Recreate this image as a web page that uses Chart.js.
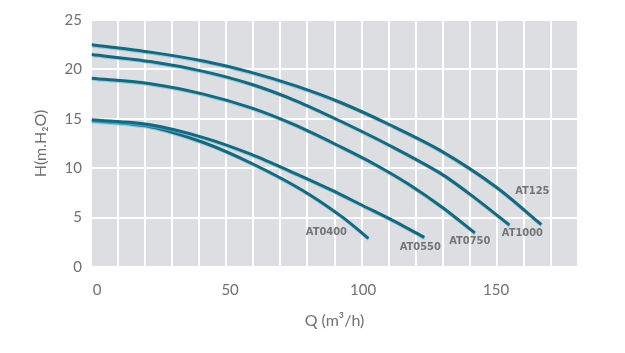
<!DOCTYPE html>
<html>
<head>
<meta charset="utf-8">
<script src="https://cdn.jsdelivr.net/npm/chart.js@4.4.0/dist/chart.umd.min.js"></script>
<style>
  body { margin: 0; background: #fff; }
  #wrap { width: 625px; height: 353px; }
</style>
</head>
<body>
<div id="wrap"><canvas id="myChart"></canvas></div>
<script>
// pump curves, Q in m3/h, H in m
var models = ["AT1250", "AT1000", "AT0750", "AT0550", "AT0400"];
var curveLabels = ["AT125", "AT1000", "AT0750", "AT0550", "AT0400"];

var q1250 = [-2, 20, 40, 58, 75, 92, 110, 129, 150, 167];
var h1250 = [22.5, 21.75, 20.85, 19.7, 18.3, 16.6, 14.4, 11.8, 8.1, 4.3];

var q1000 = [-2, 20, 40, 58, 75, 92, 110, 129, 142, 155];
var h1000 = [21.5, 20.8, 19.8, 18.5, 16.8, 14.7, 12.3, 9.5, 7.0, 4.25];

var q0750 = [-2, 20, 40, 58, 75, 92, 105, 117, 130, 142];
var h0750 = [19.1, 18.55, 17.5, 16.1, 14.3, 12.1, 10.3, 8.4, 6.0, 3.45];

var q0550 = [-2, 20, 40, 58, 75, 88, 100, 112, 123];
var h0550 = [14.9, 14.4, 13.1, 11.4, 9.4, 7.8, 6.2, 4.6, 3.0];

var q0400 = [-2, 20, 40, 58, 77, 92, 102];
var h0400 = [14.8, 14.2, 12.6, 10.5, 7.8, 5.1, 2.9];

var xTicks = [0, 50, 100, 150];
var yTicks = [0, 5, 10, 15, 20, 25];

var allQ = [q1250, q1000, q0750, q0550, q0400];
var allH = [h1250, h1000, h0750, h0550, h0400];

function pts(q, h) {
  return q.map(function (v, i) { return {x: v, y: h[i]}; });
}

var datasets = [];
for (var i = 0; i < models.length; i++) {
  datasets.push({
    label: models[i],
    data: pts(allQ[i], allH[i]),
    borderColor: "#1c667b",
    borderWidth: 3,
    pointRadius: 0,
    fill: false,
    tension: 0.3
  });
}

var grey = "#707070";

var bgPlugin = {
  id: "bg",
  beforeDraw: function (chart) {
    var a = chart.chartArea, ctx = chart.ctx;
    ctx.save();
    ctx.fillStyle = "#dcdee1";
    ctx.fillRect(a.left, a.top, a.right - a.left, a.bottom - a.top);
    ctx.restore();
  },
  beforeDatasetsDraw: function (chart) {
    var ctx = chart.ctx;
    ctx.save();
    ctx.shadowColor = "rgba(80,200,235,0.6)";
    ctx.shadowOffsetY = 1.2;
    ctx.shadowOffsetX = 0.4;
    ctx.shadowBlur = 0;
  },
  afterDatasetsDraw: function (chart) {
    var ctx = chart.ctx;
    ctx.restore();
    // little model names near curve ends
    var offs = [[-9, -33], [13, 8], [-5, 8], [-4, 10], [-42, -6]];
    ctx.save();
    ctx.font = "bold 11px 'DejaVu Sans Condensed', 'DejaVu Sans'";
    ctx.fillStyle = "#747474";
    ctx.textAlign = "center";
    ctx.textBaseline = "middle";
    chart.data.datasets.forEach(function (ds, k) {
      var meta = chart.getDatasetMeta(k);
      var last = meta.data[meta.data.length - 1];
      ctx.fillText(curveLabels[k], last.x + offs[k][0], last.y + offs[k][1]);
    });
    ctx.restore();
  }
};

new Chart("myChart", {
  type: "line",
  data: { datasets: datasets },
  options: {
    responsive: true,
    maintainAspectRatio: false,
    animation: false,
    layout: { padding: { left: 0, right: 47, top: 20, bottom: 0 } },
    plugins: {
      legend: { display: false },
      tooltip: { enabled: false }
    },
    scales: {
      x: {
        type: "linear",
        min: -2.3,
        max: 180.8,
        grid: { display: false, drawTicks: false },
        border: { display: false },
        afterBuildTicks: function (s) {
          s.ticks = xTicks.map(function (v) { return {value: v}; });
        },
        afterFit: function (s) { s.height = 86; },
        ticks: {
          padding: 14,
          color: grey,
          font: { family: "Lato", size: 15 }
        },
        title: {
          display: true,
          text: "Q (m³/h)",
          color: grey,
          font: { family: "Lato", size: 16 },
          padding: { top: 0, bottom: 23 }
        }
      },
      y: {
        type: "linear",
        min: 0,
        max: 25,
        grid: { display: false, drawTicks: false },
        border: { display: false },
        afterBuildTicks: function (s) {
          s.ticks = yTicks.map(function (v) { return {value: v}; });
        },
        afterFit: function (s) { s.width = 91; },
        ticks: {
          padding: 9,
          color: grey,
          font: { family: "Lato", size: 15 }
        },
        title: {
          display: true,
          text: "H(m.H₂O)",
          color: grey,
          font: { family: "Lato", size: 16 },
          padding: { top: 31, bottom: 0 }
        }
      },
      xg: {
        axis: "x",
        type: "linear",
        position: "top",
        min: 0,
        max: 18,
        ticks: { display: false, stepSize: 1 },
        grid: { color: "#ffffff", lineWidth: 2, drawTicks: false },
        border: { display: false },
        afterFit: function (s) { s.height = 0; }
      },
      yg: {
        axis: "y",
        type: "linear",
        position: "right",
        min: 0,
        max: 5,
        ticks: { display: false, stepSize: 1 },
        grid: { color: "#ffffff", lineWidth: 2, drawTicks: false },
        border: { display: false },
        afterFit: function (s) { s.width = 0; }
      }
    }
  },
  plugins: [bgPlugin]
});
</script>
</body>
</html>
